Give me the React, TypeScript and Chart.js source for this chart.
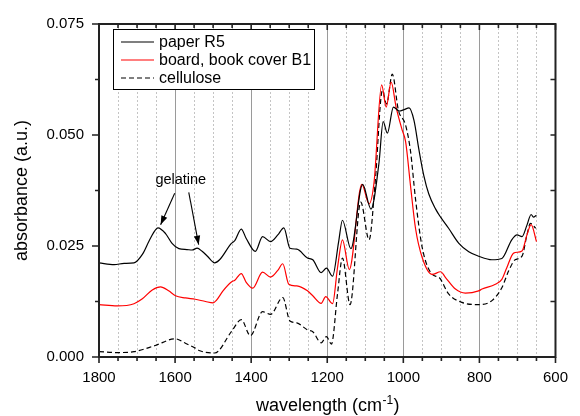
import React, { useEffect, useRef } from 'react';
import { Chart, registerables } from 'chart.js';

Chart.register(...registerables);

// ---- data (wavenumber cm^-1, absorbance a.u.) ----
const paperX = [1800, 1760, 1734, 1708, 1686, 1665, 1645, 1625, 1608, 1590, 1569, 1555, 1542, 1529, 1515, 1496, 1483, 1452, 1443, 1426, 1413, 1389, 1370, 1349, 1330, 1314, 1298, 1280, 1252, 1238, 1216, 1202, 1186, 1170, 1160, 1138, 1107, 1085, 1064, 1053, 1042, 1026, 1011, 998, 985, 972, 959, 946, 933, 915, 902, 881, 854, 828, 802, 767, 741, 715, 701, 688, 675, 664, 658, 650];
const paperY = [0.0212, 0.0208, 0.0211, 0.0212, 0.0231, 0.0267, 0.0291, 0.0278, 0.0256, 0.0244, 0.0242, 0.0241, 0.0245, 0.0238, 0.0227, 0.0212, 0.0219, 0.0256, 0.0262, 0.0288, 0.0267, 0.0238, 0.0271, 0.026, 0.0275, 0.0291, 0.0245, 0.0243, 0.0223, 0.0219, 0.019, 0.02, 0.0182, 0.026, 0.0308, 0.0244, 0.0389, 0.0333, 0.0437, 0.053, 0.0504, 0.0563, 0.0554, 0.0557, 0.0561, 0.0533, 0.0467, 0.0408, 0.0367, 0.0333, 0.0315, 0.029, 0.0256, 0.0237, 0.0227, 0.0219, 0.0222, 0.0264, 0.0275, 0.0271, 0.0297, 0.0321, 0.0315, 0.0319];

const boardX = [1800, 1752, 1708, 1686, 1660, 1638, 1617, 1599, 1573, 1547, 1520, 1500, 1492, 1474, 1452, 1443, 1426, 1413, 1396, 1370, 1349, 1330, 1317, 1301, 1280, 1252, 1238, 1216, 1204, 1186, 1173, 1160, 1142, 1109, 1090, 1077, 1057, 1045, 1032, 1019, 1003, 994, 981, 968, 950, 924, 902, 889, 863, 837, 802, 793, 758, 741, 728, 710, 688, 675, 664, 650];
const boardY = [0.0118, 0.0115, 0.012, 0.0131, 0.0151, 0.0158, 0.0149, 0.0138, 0.0133, 0.013, 0.0125, 0.0122, 0.0127, 0.0149, 0.0169, 0.0173, 0.0188, 0.0168, 0.0155, 0.0191, 0.018, 0.0195, 0.021, 0.0164, 0.016, 0.0149, 0.0138, 0.0121, 0.0136, 0.012, 0.0201, 0.0264, 0.0197, 0.0389, 0.0345, 0.0393, 0.0613, 0.0563, 0.0619, 0.0563, 0.0511, 0.0485, 0.0385, 0.029, 0.0223, 0.0186, 0.0192, 0.0179, 0.0153, 0.0144, 0.0149, 0.0153, 0.0164, 0.0175, 0.0201, 0.0234, 0.0239, 0.0275, 0.0298, 0.026];

const celluloseX = [1800, 1752, 1708, 1652, 1600, 1573, 1547, 1535, 1496, 1452, 1426, 1402, 1370, 1349, 1317, 1298, 1280, 1252, 1238, 1216, 1202, 1189, 1173, 1160, 1140, 1112, 1090, 1074, 1055, 1044, 1029, 1013, 994, 981, 968, 950, 924, 906, 881, 846, 802, 767, 741, 723, 706, 688, 675, 666, 652];
const celluloseY = [0.0012, 0.001, 0.0012, 0.0026, 0.0041, 0.0031, 0.002, 0.0014, 0.0009, 0.0057, 0.0084, 0.0048, 0.0102, 0.0096, 0.0134, 0.0081, 0.0077, 0.0061, 0.0057, 0.0032, 0.0046, 0.0029, 0.0142, 0.0223, 0.0118, 0.0349, 0.0264, 0.0393, 0.06, 0.057, 0.0637, 0.0556, 0.0522, 0.0463, 0.0356, 0.0245, 0.0186, 0.0179, 0.0142, 0.0123, 0.0118, 0.0127, 0.0156, 0.0194, 0.0219, 0.0227, 0.0275, 0.0301, 0.029];

const xTickValues = [1800, 1600, 1400, 1200, 1000, 800, 600];
const yTickValues = [0, 0.025, 0.05, 0.075];
const seriesLabels = ['paper R5', 'board, book cover B1', 'cellulose'];
const xTitleMain = 'wavelength (cm';
const xTitleSup = '-1';
const xTitleEnd = ')';
const yTitle = 'absorbance (a.u.)';
const noteText = 'gelatine';
// annotation anchors in data coordinates [wavenumber, absorbance]
const noteAnchor = [1585, 0.0389];
const noteArrows = [
  [1601, 0.0369, 1638, 0.0298],
  [1564, 0.0371, 1538, 0.0253],
];

const FONT = '"Liberation Sans", Arial, sans-serif';

const pts = (xs: number[], ys: number[]) => xs.map((x, i) => ({ x, y: ys[i] }));

function drawArrow(ctx: CanvasRenderingContext2D, x1: number, y1: number, x2: number, y2: number) {
  ctx.beginPath();
  ctx.moveTo(x1, y1);
  ctx.lineTo(x2, y2);
  ctx.stroke();
  const ang = Math.atan2(y2 - y1, x2 - x1);
  const L = 9, W = 3.2;
  const c = Math.cos(ang), s = Math.sin(ang);
  ctx.beginPath();
  ctx.moveTo(x2, y2);
  ctx.lineTo(x2 - L * c - W * s, y2 - L * s + W * c);
  ctx.lineTo(x2 - L * c + W * s, y2 - L * s - W * c);
  ctx.closePath();
  ctx.fill();
}

const decorPlugin = {
  id: 'decor',
  beforeDatasetsDraw(chart: any) {
    const ctx = chart.ctx as CanvasRenderingContext2D;
    const a = chart.chartArea;
    const xs = chart.scales.x;
    ctx.save();
    for (let v = 650; v < 1800; v += 50) {
      const px = Math.round(xs.getPixelForValue(v)) + 0.5;
      ctx.beginPath();
      if (v % 200 === 0) {
        ctx.setLineDash([]);
        ctx.strokeStyle = '#9a9a9a';
      } else {
        ctx.setLineDash([2, 2]);
        ctx.strokeStyle = '#c4c4c4';
      }
      ctx.lineWidth = 1;
      ctx.moveTo(px, a.top);
      ctx.lineTo(px, a.bottom);
      ctx.stroke();
    }
    ctx.restore();
  },
  afterDatasetsDraw(chart: any) {
    const ctx = chart.ctx as CanvasRenderingContext2D;
    const a = chart.chartArea;
    const xs = chart.scales.x;
    const ys = chart.scales.y;
    ctx.save();
    ctx.setLineDash([]);
    ctx.strokeStyle = '#222';
    ctx.lineWidth = 1.6;
    // ticks
    ctx.beginPath();
    for (let v = 600; v <= 1800; v += 50) {
      const px = xs.getPixelForValue(v);
      const major = v % 200 === 0;
      ctx.moveTo(px, a.bottom);
      ctx.lineTo(px, a.bottom + (major ? 6 : 4));
      ctx.moveTo(px, a.top);
      ctx.lineTo(px, a.top + (major ? 6 : 4));
    }
    for (let i = 0; i <= 6; i++) {
      const v = i * 0.0125;
      const py = ys.getPixelForValue(v);
      const major = i % 2 === 0;
      ctx.moveTo(a.left, py);
      ctx.lineTo(a.left - (major ? 7 : 4), py);
      ctx.moveTo(a.right, py);
      ctx.lineTo(a.right - 5, py);
    }
    ctx.stroke();
    // frame
    ctx.lineWidth = 2;
    ctx.strokeRect(a.left, a.top, a.right - a.left, a.bottom - a.top);

    // legend
    const lx = 113.5, ly = 29.5, lw = 201, lh = 60;
    ctx.fillStyle = '#fff';
    ctx.fillRect(lx, ly, lw, lh);
    ctx.lineWidth = 1;
    ctx.strokeStyle = '#000';
    ctx.strokeRect(lx, ly, lw, lh);
    const ds = chart.data.datasets;
    ctx.font = `16px ${FONT}`;
    ctx.textBaseline = 'middle';
    ctx.textAlign = 'left';
    for (let i = 0; i < ds.length; i++) {
      const yy = 42 + i * 18;
      ctx.beginPath();
      ctx.strokeStyle = ds[i].borderColor;
      ctx.lineWidth = 1.2;
      ctx.setLineDash(ds[i].borderDash || []);
      ctx.moveTo(121, yy);
      ctx.lineTo(154, yy);
      ctx.stroke();
      ctx.setLineDash([]);
      ctx.fillStyle = '#000';
      ctx.fillText(ds[i].label, 159, yy + 1);
    }

    // annotation
    ctx.fillStyle = '#000';
    ctx.strokeStyle = '#000';
    ctx.lineWidth = 1.1;
    ctx.font = `14.5px ${FONT}`;
    ctx.textAlign = 'center';
    ctx.textBaseline = 'alphabetic';
    ctx.fillText(noteText, xs.getPixelForValue(noteAnchor[0]), ys.getPixelForValue(noteAnchor[1]));
    for (const ar of noteArrows) {
      drawArrow(ctx, xs.getPixelForValue(ar[0]), ys.getPixelForValue(ar[1]), xs.getPixelForValue(ar[2]), ys.getPixelForValue(ar[3]));
    }

    // axis titles
    ctx.font = `18px ${FONT}`;
    ctx.textAlign = 'left';
    const w1 = ctx.measureText(xTitleMain).width;
    ctx.font = `12px ${FONT}`;
    const w2 = ctx.measureText(xTitleSup).width;
    ctx.font = `18px ${FONT}`;
    const w3 = ctx.measureText(xTitleEnd).width;
    const cx = (a.left + a.right) / 2;
    let sx = cx - (w1 + w2 + w3) / 2;
    const base = 411;
    ctx.fillText(xTitleMain, sx, base);
    sx += w1;
    ctx.font = `12px ${FONT}`;
    ctx.fillText(xTitleSup, sx + 0.5, base - 7);
    sx += w2 + 1;
    ctx.font = `18px ${FONT}`;
    ctx.fillText(xTitleEnd, sx, base);

    ctx.save();
    ctx.translate(22, (a.top + a.bottom) / 2);
    ctx.rotate(-Math.PI / 2);
    ctx.textAlign = 'center';
    ctx.textBaseline = 'middle';
    ctx.fillText(yTitle, 0, 0);
    ctx.restore();

    ctx.restore();
  },
};

export default function App() {
  const ref = useRef<HTMLCanvasElement | null>(null);
  useEffect(() => {
    if (!ref.current) return;
    Chart.defaults.font.family = FONT;
    const chart = new Chart(ref.current, {
      type: 'line',
      data: {
        datasets: [
          { label: seriesLabels[0], data: pts(paperX, paperY), borderColor: '#000000', borderWidth: 1.2, pointRadius: 0, cubicInterpolationMode: 'monotone', fill: false },
          { label: seriesLabels[1], data: pts(boardX, boardY), borderColor: '#ff0000', borderWidth: 1.2, pointRadius: 0, cubicInterpolationMode: 'monotone', fill: false },
          { label: seriesLabels[2], data: pts(celluloseX, celluloseY), borderColor: '#000000', borderWidth: 1.2, borderDash: [5, 3], pointRadius: 0, cubicInterpolationMode: 'monotone', fill: false },
        ],
      } as any,
      options: {
        animation: false,
        responsive: false,
        maintainAspectRatio: false,
        devicePixelRatio: 1,
        layout: { padding: { left: 0, right: 23, top: 19, bottom: 0 } },
        plugins: { legend: { display: false }, tooltip: { enabled: false } },
        scales: {
          x: {
            type: 'linear',
            reverse: true,
            min: 600,
            max: 1800,
            afterBuildTicks: (s: any) => { s.ticks = xTickValues.map((v) => ({ value: v })); },
            afterFit: (s: any) => { s.height = 59; },
            ticks: { color: '#000', font: { size: 15, family: FONT }, padding: 12, maxRotation: 0, autoSkip: false, callback: (v: any) => String(v) },
            grid: { display: false, drawTicks: false },
            border: { display: false },
          },
          y: {
            type: 'linear',
            min: 0,
            max: 0.075,
            afterBuildTicks: (s: any) => { s.ticks = yTickValues.map((v) => ({ value: v })); },
            afterFit: (s: any) => { s.width = 99; },
            ticks: { color: '#000', font: { size: 15, family: FONT }, padding: 15, callback: (v: any) => Number(v).toFixed(3) },
            grid: { display: false, drawTicks: false },
            border: { display: false },
          },
        },
      } as any,
      plugins: [decorPlugin],
    });
    return () => chart.destroy();
  }, []);
  return (
    <div style={{ position: 'fixed', left: 0, top: 0, width: 580, height: 416, background: '#fff' }}>
      <canvas ref={ref} width={580} height={416} />
    </div>
  );
}
